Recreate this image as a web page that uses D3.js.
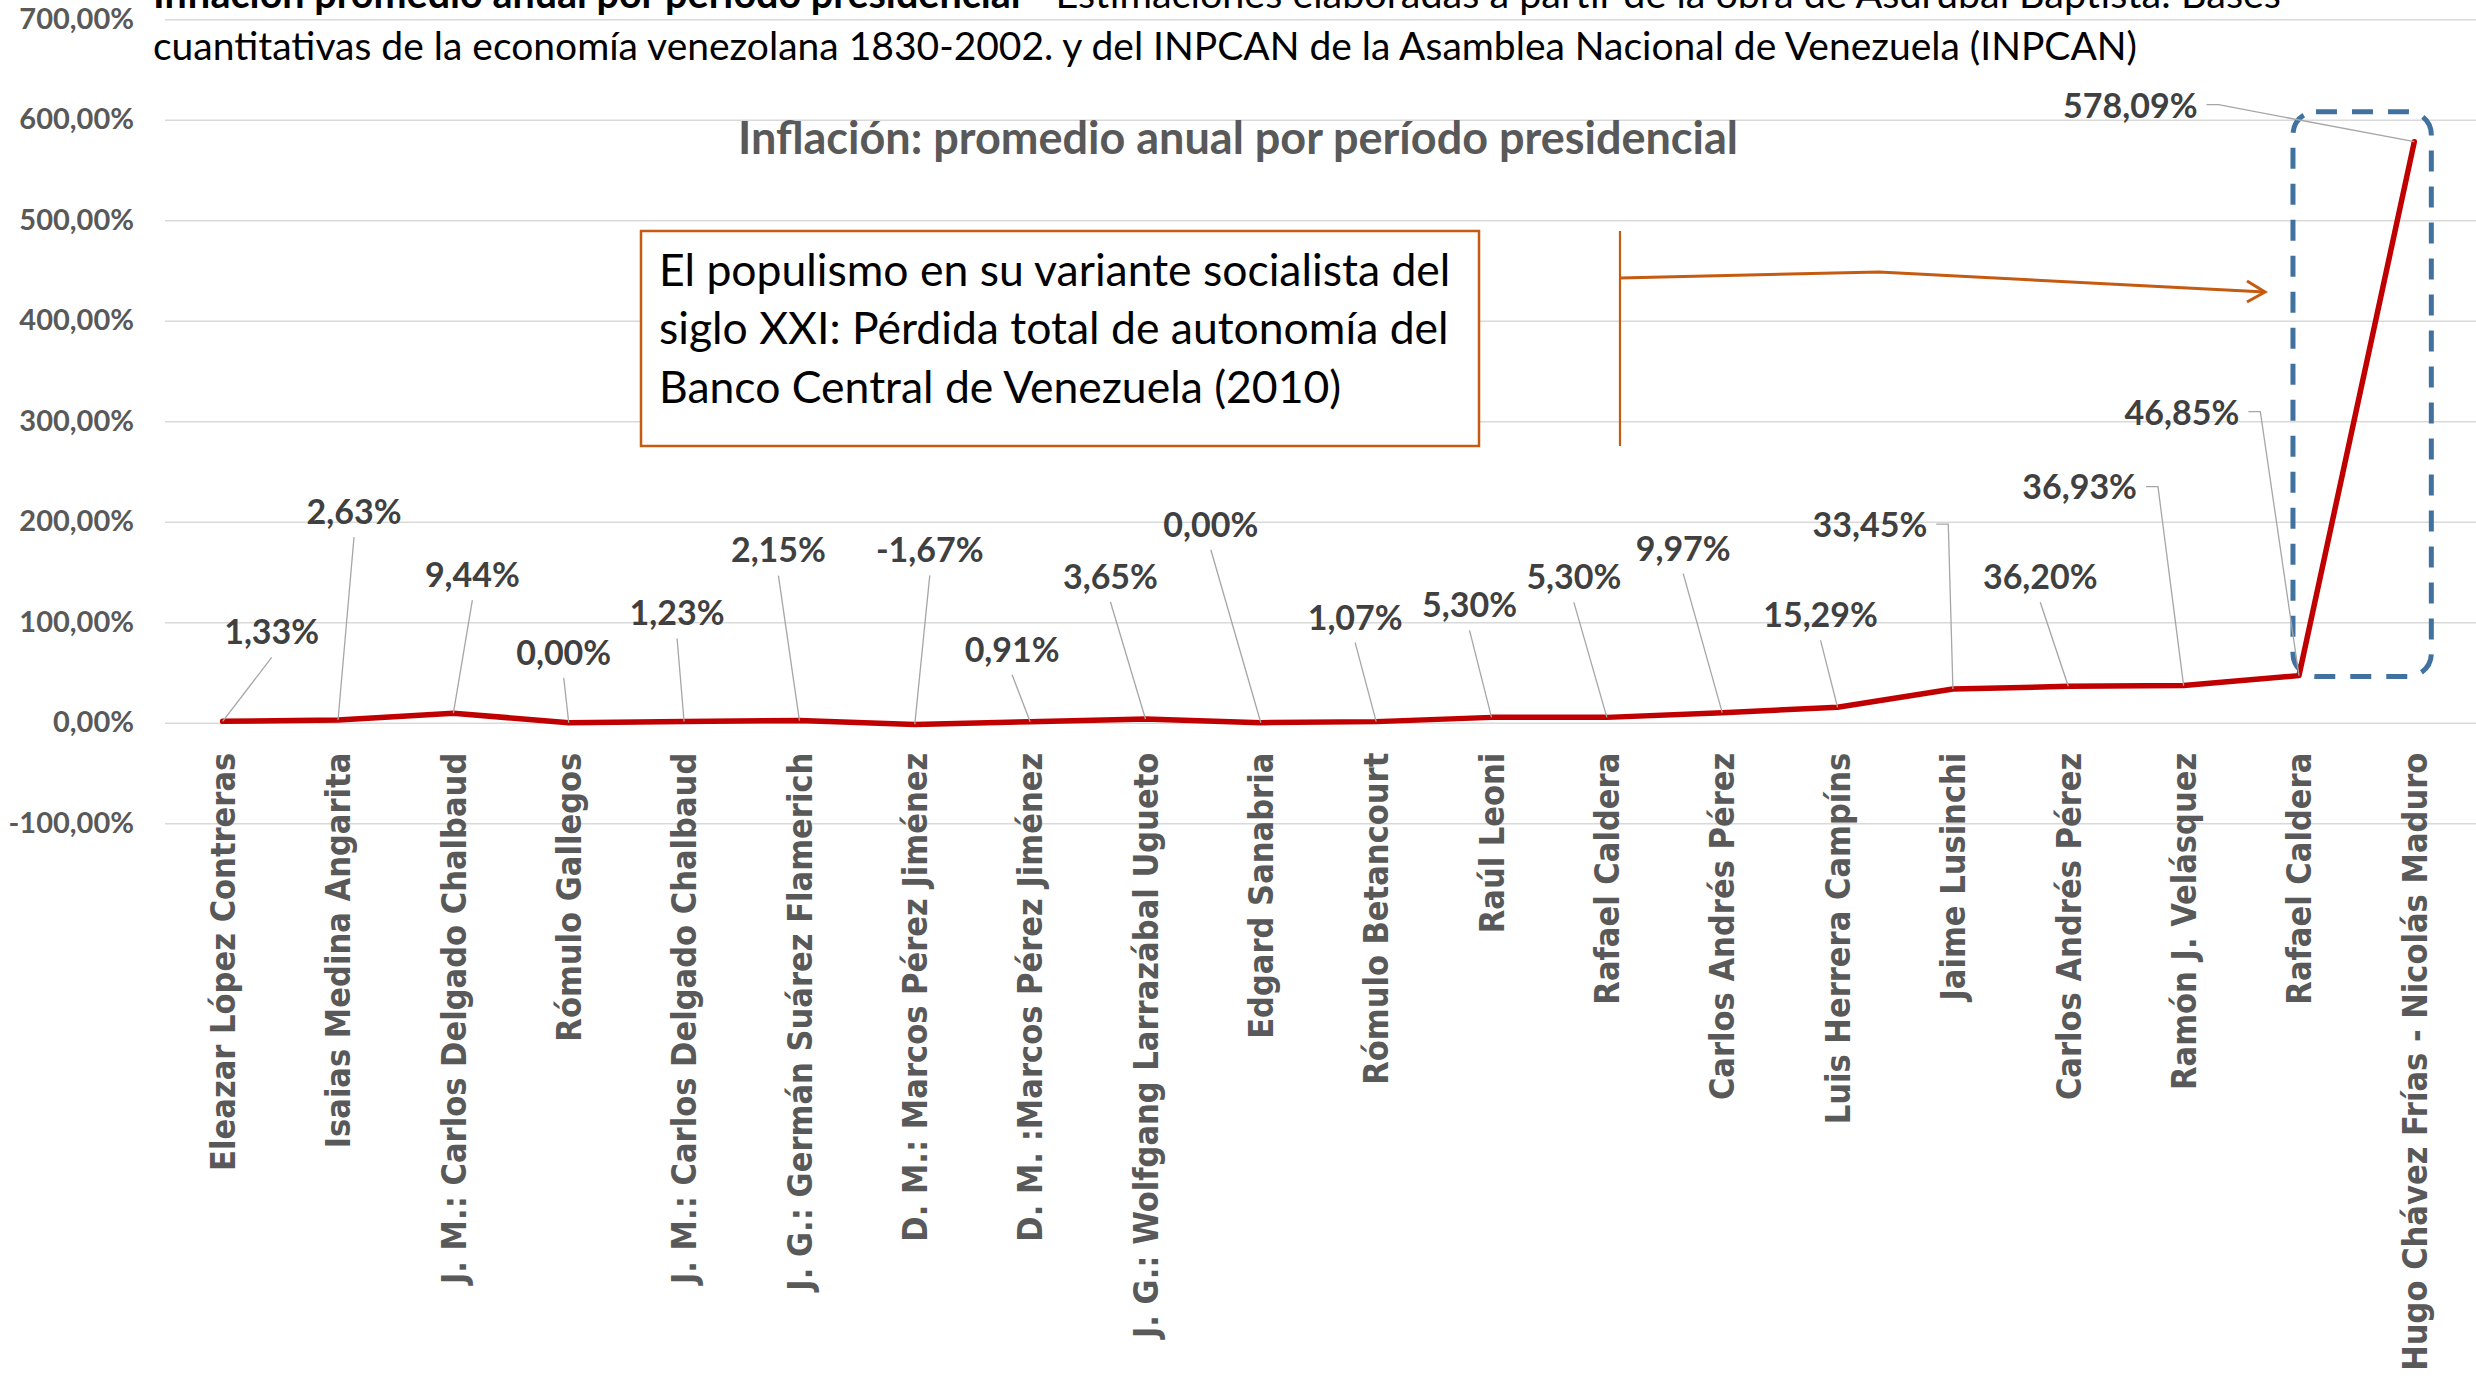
<!DOCTYPE html>
<html><head><meta charset="utf-8">
<script src="https://cdn.jsdelivr.net/npm/d3@7"></script>
<style>
html,body{margin:0;padding:0;background:#fff;overflow:hidden}
svg{display:block}
</style></head><body>
<svg id="chart" width="2476" height="1383"></svg>
<script>
// ---------- DATA ----------
const categories = [
  "Eleazar López Contreras",
  "Isaias Medina Angarita",
  "J. M.: Carlos Delgado Chalbaud",
  "Rómulo Gallegos",
  "J. M.: Carlos Delgado Chalbaud",
  "J. G.: Germán Suárez Flamerich",
  "D. M.: Marcos Pérez Jiménez",
  "D. M. :Marcos Pérez Jiménez",
  "J. G.: Wolfgang Larrazábal Ugueto",
  "Edgard Sanabria",
  "Rómulo Betancourt",
  "Raúl Leoni",
  "Rafael Caldera",
  "Carlos Andrés Pérez",
  "Luis Herrera Campíns",
  "Jaime Lusinchi",
  "Carlos Andrés Pérez",
  "Ramón J. Velásquez",
  "Rafael Caldera",
  "Hugo Chávez Frías - Nicolás Maduro"
];
const values = [1.33, 2.63, 9.44, 0.00, 1.23, 2.15, -1.67, 0.91, 3.65, 0.00,
                1.07, 5.30, 5.30, 9.97, 15.29, 33.45, 36.20, 36.93, 46.85, 578.09];
const yTicks = [-100, 0, 100, 200, 300, 400, 500, 600, 700];
const headerBold = "Inflación promedio anual por período presidencial";
const headerRest = " - Estimaciones elaboradas a partir de la obra de Asdrúbal Baptista: Bases";
const headerLine2 = "cuantitativas de la economía venezolana 1830-2002. y del INPCAN de la Asamblea Nacional de Venezuela (INPCAN)";
const chartTitle = "Inflación: promedio anual por período presidencial";
const noteLines = [
  "El populismo en su variante socialista del",
  "siglo XXI: Pérdida total de autonomía del",
  "Banco Central de Venezuela (2010)"
];

// ---------- LAYOUT (label placement, px offsets from each point) ----------
const labelOffsets = [[49,-89],[16,-208],[19,-138],[-5,-70],[-7,-108],[-21,-170],[15,-174],[-18,-72],
  [-35,-142],[-50,-198],[-21,-104],[-22,-112],[-33,-140],[-39,-164],[-17,-92],[-83,-164],[-28,-109],
  [-104,-198],[-117,-263],[-284,-36]];
const sideLeader = new Set([15, 17, 18, 19]);

const W = 2476, H = 1383;
const plotL = 165, plotR = 2472;
const svg = d3.select("#chart");

const x = d3.scaleBand().domain(d3.range(categories.length)).range([plotL, plotR]);
const y = d3.scaleLinear().domain([-100, 700]).range([823.2, 19.2]);
const cx = i => x(i) + x.bandwidth() / 2;

const loc = d3.formatLocale({decimal: ",", thousands: ".", grouping: [3], currency: ["", "€"], minus: "-"});
const f2 = loc.format(".2f");
const fmt = v => f2(v) + "%";

const LATO = "Lato, 'Open Sans', sans-serif";

// gridlines
svg.append("g").attr("transform", `translate(${plotL},0)`)
  .call(d3.axisLeft(y).tickValues(yTicks).tickSize(-(W - plotL)).tickFormat(""))
  .call(g => { g.select(".domain").remove();
    g.selectAll("line").attr("stroke", "#D9D9D9").attr("stroke-width", 1.6); });

// y labels
svg.append("g").attr("transform", `translate(${plotL},0)`)
  .call(d3.axisLeft(y).tickValues(yTicks).tickSize(0).tickPadding(31).tickFormat(fmt))
  .call(g => { g.select(".domain").remove();
    g.selectAll("text").attr("font-family", LATO).attr("font-weight", "bold")
      .attr("font-size", 29).attr("fill", "#595959"); });

// x labels
svg.append("g").attr("transform", `translate(0,${y(0)})`)
  .call(d3.axisBottom(x).tickSize(0).tickFormat(i => categories[i]))
  .call(g => { g.select(".domain").remove();
    g.selectAll("text").attr("transform", "rotate(-90)").attr("x", -30).attr("y", 0)
      .attr("dy", "0.36em").attr("text-anchor", "end")
      .attr("font-family", "'DejaVu Sans Condensed', 'DejaVu Sans', sans-serif")
      .style("font-stretch", "condensed")
      .attr("font-weight", "bold").attr("font-size", 34).attr("fill", "#595959"); });

// header (top text)
const hdr = svg.append("text").attr("x", 153).attr("y", 8)
  .attr("font-family", LATO).attr("font-size", 39.5).attr("fill", "#000");
hdr.append("tspan").attr("font-weight", "bold").text(headerBold);
hdr.append("tspan").text(headerRest);
svg.append("text").attr("x", 153).attr("y", 60)
  .attr("font-family", LATO).attr("font-size", 39).attr("fill", "#000").text(headerLine2);

// chart title
svg.append("text").attr("x", 1238).attr("y", 154).attr("text-anchor", "middle")
  .attr("font-family", LATO).attr("font-weight", "bold").attr("font-size", 45)
  .attr("fill", "#595959").text(chartTitle);

// annotation box
const ORANGE = "#C55A11";
svg.append("rect").attr("x", 641).attr("y", 231).attr("width", 838).attr("height", 215)
  .attr("fill", "#fff").attr("stroke", ORANGE).attr("stroke-width", 2.5);
svg.append("g").selectAll("text").data(noteLines).join("text")
  .attr("x", 659).attr("y", (d, i) => 286 + i * 58.3)
  .attr("font-family", LATO).attr("font-size", 44.5).attr("fill", "#000").text(d => d);

// arrow annotation
svg.append("line").attr("x1", 1620).attr("x2", 1620).attr("y1", 231).attr("y2", 446)
  .attr("stroke", ORANGE).attr("stroke-width", 2.2);
svg.append("polyline").attr("points", "1620,278 1879,272 2265,292")
  .attr("fill", "none").attr("stroke", ORANGE).attr("stroke-width", 3);
svg.append("polyline").attr("points", "2247,281 2265,292 2247,302")
  .attr("fill", "none").attr("stroke", ORANGE).attr("stroke-width", 3).attr("stroke-linejoin", "miter");

// blue dashed highlight around last segment
const n = values.length;
const hx0 = cx(n - 2) - 6, hx1 = cx(n - 1) + 17;
const hy0 = y(608), hy1 = y(46);
svg.append("rect").attr("x", hx0).attr("y", hy0).attr("width", hx1 - hx0).attr("height", hy1 - hy0)
  .attr("rx", 23).attr("ry", 23).attr("fill", "none")
  .attr("stroke", "#41729F").attr("stroke-width", 5).attr("stroke-dasharray", "21,15");

// series line
const line = d3.line().x((d, i) => cx(i)).y(d => y(d));
svg.append("path").datum(values).attr("d", line).attr("fill", "none")
  .attr("stroke", "#C00000").attr("stroke-width", 5.5)
  .attr("stroke-linejoin", "round").attr("stroke-linecap", "round");

// data labels + leader lines
const leaders = svg.append("g");
const labels = svg.append("g");
values.forEach((v, i) => {
  const px = cx(i), py = y(v);
  const lx = px + labelOffsets[i][0], ly = py + labelOffsets[i][1];
  const t = labels.append("text").attr("x", lx).attr("y", ly).attr("dy", "0.35em")
    .attr("text-anchor", "middle").attr("font-family", LATO).attr("font-weight", "bold")
    .attr("font-size", 34).attr("fill", "#404040").text(fmt(v));
  let pts;
  if (sideLeader.has(i)) {
    const w = t.node().getComputedTextLength();
    const sx = lx + w / 2 + 9, sy = ly - 1;
    pts = [[sx, sy], [sx + 12, sy], [px, py]];
  } else {
    pts = [[lx, ly + 25], [px, py]];
  }
  leaders.append("polyline").attr("points", pts.map(p => p.join(",")).join(" "))
    .attr("fill", "none").attr("stroke", "#A6A6A6").attr("stroke-width", 1.3);
});
</script>
</body></html>
